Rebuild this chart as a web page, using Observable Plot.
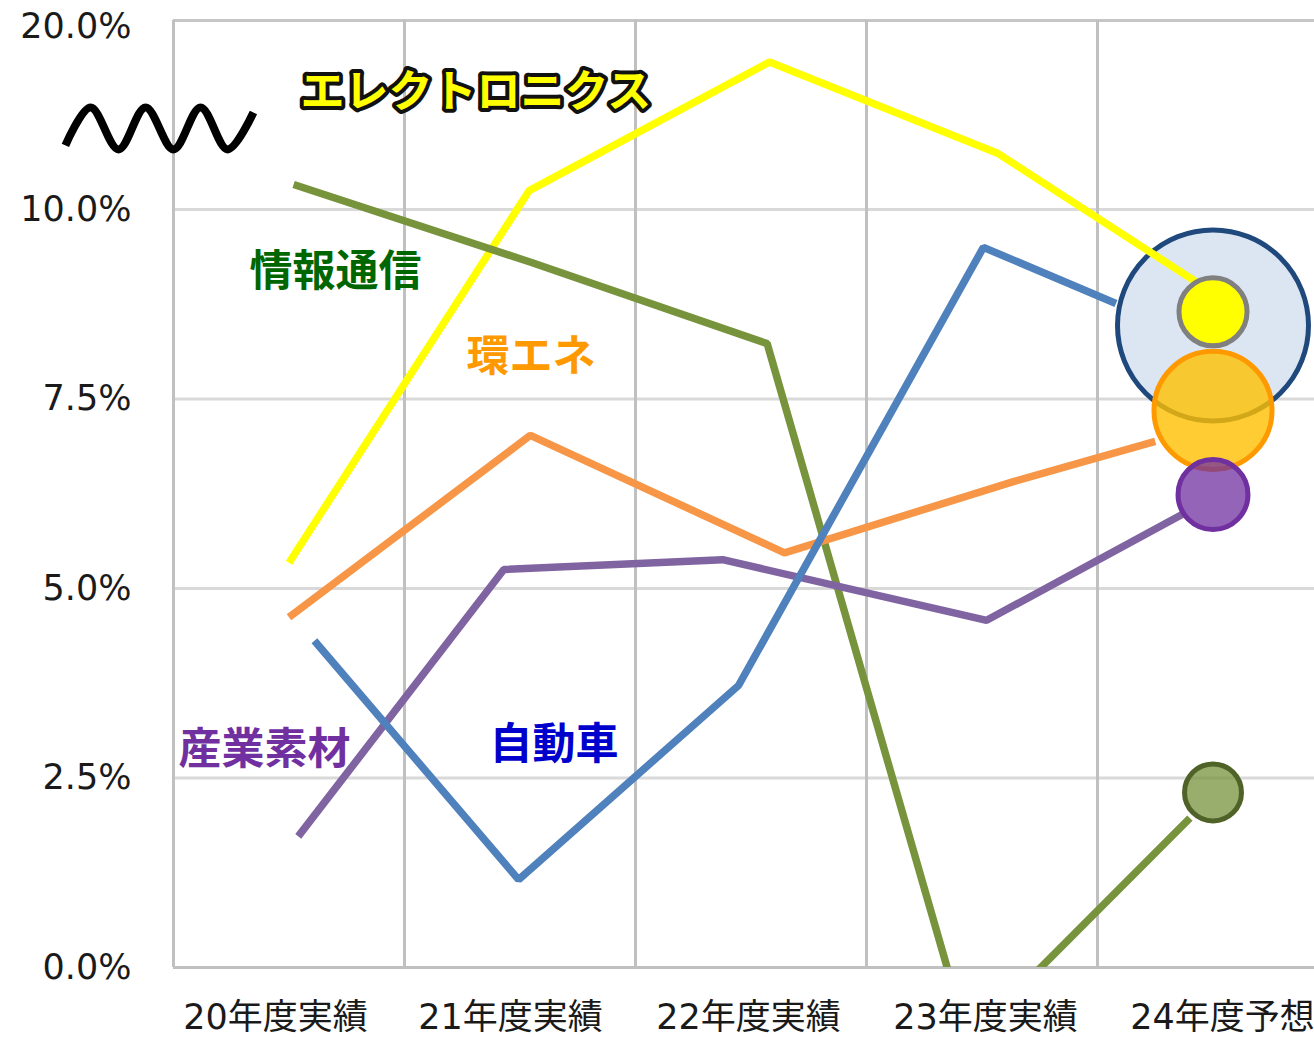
<!DOCTYPE html>
<html>
<head>
<meta charset="utf-8">
<script src="https://cdn.jsdelivr.net/npm/d3@7"></script>
<script src="https://cdn.jsdelivr.net/npm/@observablehq/plot@0.6"></script>
<style>
  html, body { margin: 0; padding: 0; background: #ffffff; }
  #chart svg { display: block; }
</style>
</head>
<body>
<div id="chart"></div>
<script>
// ---------- data ----------
const categories = ["20年度実績", "21年度実績", "22年度実績", "23年度実績", "24年度予想"];
const categoryLabelPos = [0.442, 1.459, 2.489, 3.515, 4.541];
const seriesNames = ["エレクトロニクス", "情報通信", "環エネ", "産業素材", "自動車"];

// each series: [position along category axis, value in %]
const electronics = [[0.50, 5.34], [1.54, 11.0], [2.58, 17.8], [3.57, 12.96], [4.47, 8.96]];
const infoComm    = [[0.52, 11.32], [1.55, 9.30], [2.57, 8.23], [3.44, -0.96], [4.40, 1.97]];
const envEnergy   = [[0.50, 4.62], [1.545, 7.02], [2.645, 5.47], [3.636, 6.41], [4.25, 6.94]];
const materials   = [[0.54, 1.73], [1.43, 5.25], [2.377, 5.38], [3.52, 4.58], [4.38, 6.00]];
const automobile  = [[0.61, 4.31], [1.494, 1.16], [2.446, 3.72], [3.506, 9.50], [4.08, 8.76]];

// 24年度予想 bubbles: value %, relative size
const bubbleNames  = ["自動車", "環エネ", "エレクトロニクス", "産業素材", "情報通信"];
const bubbleValues = [8.47, 7.35, 8.65, 6.24, 2.31];
const bubbleSizes  = [100, 38.2, 12.7, 13.4, 8.9];

// y-axis ticks
const yTickValues = [0, 2.5, 5, 7.5, 10, 20];
const yTickLabels = ["0.0%", "2.5%", "5.0%", "7.5%", "10.0%", "20.0%"];

// series label anchors [category position, value %]
const labelAnchors = [[0.55, 16.18], [0.329, 9.17], [1.268, 8.05], [0.022, 2.86], [1.368, 2.93]];

// axis-break squiggle [category position, value %]
const squiggle = [[-0.468, 13.39], [-0.359, 15.40], [-0.238, 13.18], [-0.121, 15.40],
                  [0.0, 13.18], [0.117, 15.40], [0.234, 13.18], [0.346, 15.13]];

// ---------- styles ----------
const lineColors = {
  "エレクトロニクス": "#ffff00", "情報通信": "#77933c", "環エネ": "#f79646",
  "産業素材": "#8064a2", "自動車": "#4f81bd"
};
const labelColors = {
  "エレクトロニクス": "#ffff00", "情報通信": "#006600", "環エネ": "#ff9900",
  "産業素材": "#7030a0", "自動車": "#0000cc"
};
const bubbleFill = {
  "自動車": "#dce6f2", "環エネ": "rgba(255,192,0,0.8)", "エレクトロニクス": "#ffff00",
  "産業素材": "rgba(112,48,160,0.75)", "情報通信": "rgba(119,147,60,0.75)"
};
const bubbleStroke = {
  "自動車": "#1f497d", "環エネ": "#ff9900", "エレクトロニクス": "#808080",
  "産業素材": "#7030a0", "情報通信": "#4f6228"
};

// broken axis: 10%–20% compressed
const BREAK = 10, COMPRESS = 0.2493;
const disp = v => v <= BREAK ? v : BREAK + (v - BREAK) * COMPRESS;

const seriesData = [electronics, infoComm, envEnergy, materials, automobile];
const lines = seriesNames.flatMap((name, i) =>
  seriesData[i].map(([x, v]) => ({name, x, y: disp(v)})));
const bubbles = bubbleNames.map((name, i) => ({name, x: 4.5, y: disp(bubbleValues[i]), size: bubbleSizes[i]}));
const labels = seriesNames.map((name, i) => ({name, x: labelAnchors[i][0], y: disp(labelAnchors[i][1])}));
const squig = squiggle.map(([x, v]) => ({x, y: disp(v)}));
const yTop = disp(20);

const fontFamily = "'DejaVu Sans', 'Noto Sans CJK JP', sans-serif";
const yLabelOf = d => yTickLabels[yTickValues.findIndex(v => Math.abs(disp(v) - d) < 1e-6)];

const lineMark = name => Plot.line(lines.filter(d => d.name === name), {
  x: "x", y: "y", stroke: lineColors[name], strokeWidth: 7.5,
  strokeLinecap: "butt", strokeLinejoin: "miter", clip: "frame"
});
const bubbleMark = data => Plot.dot(data, {
  x: "x", y: "y", r: "size",
  fill: d => bubbleFill[d.name], stroke: d => bubbleStroke[d.name], strokeWidth: 5
});

const chart = Plot.plot({
  width: 1314,
  height: 1037,
  marginLeft: 173,
  marginRight: 0,
  marginTop: 20,
  marginBottom: 70,
  x: {domain: [0, 5], range: [173, 1328], axis: null},
  y: {domain: [0, yTop], axis: null},
  r: {type: "sqrt", domain: [0, 100], range: [0, 95.5]},
  color: {type: "identity"},
  style: {fontFamily, fontSize: "35px", color: "#1a1a1a", background: "#ffffff", overflow: "hidden"},
  marks: [
    Plot.ruleY(yTickValues.filter(v => v > 0 && v < 20).map(disp), {stroke: "#d9d9d9", strokeWidth: 3}),
    Plot.ruleY([yTop], {stroke: "#c6c6c6", strokeWidth: 3}),
    Plot.ruleX([1, 2, 3, 4], {y1: 0, y2: yTop, stroke: "#c0c0c0", strokeWidth: 3}),
    Plot.ruleX([0], {y1: 0, y2: yTop, stroke: "#c0c0c0", strokeWidth: 3}),
    Plot.ruleY([0], {stroke: "#c0c0c0", strokeWidth: 3}),
    Plot.axisY(yTickValues.filter(v => v < 20).map(disp), {
      label: null, tickSize: 0, tickPadding: 42, fontSize: 35, fill: "#1a1a1a",
      tickFormat: yLabelOf
    }),
    Plot.axisY([yTop], {
      label: null, tickSize: 0, tickPadding: 42, fontSize: 35, fill: "#1a1a1a", dy: 6,
      tickFormat: yLabelOf
    }),
    Plot.axisX(categoryLabelPos, {
      label: null, tickSize: 0, tickPadding: 37, fontSize: 35, fill: "#1a1a1a",
      tickFormat: d => categories[categoryLabelPos.indexOf(d)]
    }),
    bubbleMark(bubbles.filter(d => d.name === "自動車")),
    ...seriesNames.map(lineMark),
    bubbleMark(bubbles.filter(d => d.name !== "自動車")),
    Plot.line(squig, {x: "x", y: "y", stroke: "#000000", strokeWidth: 8, curve: "catmull-rom", strokeLinecap: "butt"}),
    Plot.text(labels, {
      x: "x", y: "y", text: "name", textAnchor: "start",
      fontSize: d => d.name === "エレクトロニクス" ? 44 : 43,
      fontWeight: "bold", fontFamily: "'Noto Sans CJK JP', sans-serif",
      fill: d => labelColors[d.name],
      stroke: d => d.name === "エレクトロニクス" ? "#111111" : "none",
      strokeWidth: 8, paintOrder: "stroke"
    })
  ]
});

document.getElementById("chart").appendChild(chart);
</script>
</body>
</html>
